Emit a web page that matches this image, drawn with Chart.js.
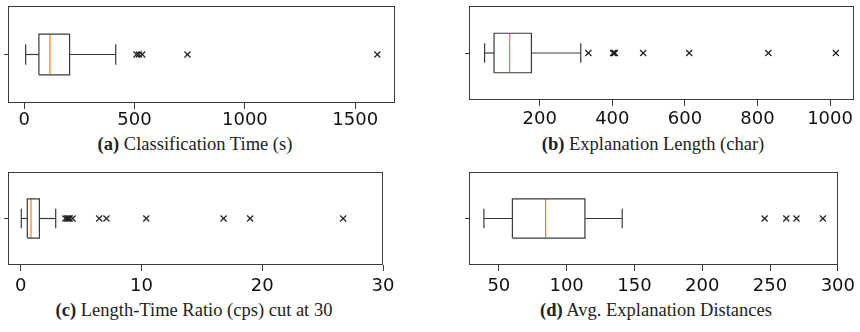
<!DOCTYPE html>
<html>
<head>
<meta charset="utf-8">
<script src="https://cdn.jsdelivr.net/npm/chart.js@4"></script>
<style>
  html, body { margin: 0; padding: 0; background: #fff; }
  body { width: 860px; height: 332px; position: relative; overflow: hidden; }
  canvas { position: absolute; }
  .cap { position: absolute; font-family: "Liberation Serif", "Times New Roman", serif; font-size: 18.5px; color: #222; white-space: nowrap; transform: translate(-50%, -50%); }
  .cap b { font-weight: bold; }
</style>
</head>
<body>
<canvas id="ca" width="430" height="132" style="left:0;top:0"></canvas>
<canvas id="cb" width="430" height="132" style="left:430px;top:0"></canvas>
<canvas id="cc" width="430" height="132" style="left:0;top:166px"></canvas>
<canvas id="cd" width="430" height="132" style="left:430px;top:166px"></canvas>
<div class="cap" style="left:195px;top:144px"><b>(a)</b> Classification Time (s)</div>
<div class="cap" style="left:653px;top:144px"><b>(b)</b> Explanation Length (char)</div>
<div class="cap" style="left:194px;top:310px"><b>(c)</b> Length-Time Ratio (cps) cut at 30</div>
<div class="cap" style="left:656px;top:310px"><b>(d)</b> Avg. Explanation Distances</div>
<script>
// ---- data: [whisker low, Q1, median, Q3, whisker high] ----
const statsA = [7, 67, 117, 206, 415];
const outliersA = [509, 520, 535, 740, 1600];
const ticksA = [0, 500, 1000, 1500];
const rangeA = [-73, 1680];

const statsB = [48, 74, 117, 177, 313];
const outliersB = [334, 402, 405, 407, 485, 612, 830, 1016];
const ticksB = [200, 400, 600, 800, 1000];
const rangeB = [5, 1066];

const statsC = [0.05, 0.55, 0.85, 1.55, 2.9];
const outliersC = [3.7, 3.85, 3.95, 4.05, 4.3, 6.5, 7.1, 10.4, 16.8, 19.0, 26.7];
const ticksC = [0, 10, 20, 30];
const rangeC = [-1.05, 30];

const statsD = [39, 60, 84.5, 113.5, 141];
const outliersD = [246, 262, 269.5, 289];
const ticksD = [50, 100, 150, 200, 250, 300];
const rangeD = [28, 300];

const LINE = '#3a3a3a';
const MED = '#ff7f0e';
const HALF = 0.21;   // half box height (y units)
const CAP = 0.105;   // half cap length

const framePlugin = {
  id: 'frame',
  afterDatasetsDraw(chart) {
    const a = chart.chartArea, ctx = chart.ctx;
    ctx.save();
    ctx.strokeStyle = LINE;
    ctx.lineWidth = 1;
    ctx.strokeRect(Math.round(a.left) + 0.5, Math.round(a.top) + 0.5,
                   Math.round(a.right - a.left) - 1, Math.round(a.bottom - a.top) - 1);
    ctx.restore();
  }
};

function seg(points, color) {
  return { type: 'scatter', data: points, showLine: true, borderColor: color,
           borderWidth: 1.2, pointRadius: 0, pointHoverRadius: 0, fill: false, tension: 0 };
}

function makeBox(id, stats, outliers, tickVals, range, layout) {
  const [lo, q1, med, q3, hi] = stats;
  const datasets = [
    seg([{x: q1, y: 1 - HALF}, {x: q3, y: 1 - HALF}, {x: q3, y: 1 + HALF}, {x: q1, y: 1 + HALF}, {x: q1, y: 1 - HALF}], LINE),
    seg([{x: lo, y: 1}, {x: q1, y: 1}], LINE),
    seg([{x: q3, y: 1}, {x: hi, y: 1}], LINE),
    seg([{x: lo, y: 1 - CAP}, {x: lo, y: 1 + CAP}], LINE),
    seg([{x: hi, y: 1 - CAP}, {x: hi, y: 1 + CAP}], LINE),
    seg([{x: med, y: 1 - HALF}, {x: med, y: 1 + HALF}], MED),
    { type: 'scatter', data: outliers.map(v => ({x: v, y: 1})), pointStyle: 'crossRot',
      pointRadius: 4.3, borderColor: '#222', borderWidth: 1.2, backgroundColor: '#222', showLine: false }
  ];
  new Chart(document.getElementById(id), {
    type: 'scatter',
    data: { datasets },
    options: {
      responsive: false, animation: false, devicePixelRatio: 1,
      layout: { padding: { left: 0, top: layout.top, right: layout.right, bottom: 0 } },
      plugins: { legend: { display: false }, tooltip: { enabled: false } },
      scales: {
        x: {
          type: 'linear', min: range[0], max: range[1],
          afterBuildTicks: s => { s.ticks = tickVals.map(v => ({ value: v })); },
          afterFit: s => { s.height = layout.xh; },
          grid: { display: true, drawOnChartArea: false, drawTicks: true, tickLength: 6, color: LINE, lineWidth: 1 },
          border: { display: false },
          ticks: { color: '#111', padding: layout.pad, maxRotation: 0, autoSkip: false,
                   callback: v => String(v),
                   font: { family: 'DejaVu Sans', size: 18 } }
        },
        y: {
          type: 'linear', min: 0.5, max: 1.5,
          afterBuildTicks: s => { s.ticks = [{ value: 1 }]; },
          afterFit: s => { s.width = layout.yw; },
          grid: { display: true, drawOnChartArea: false, drawTicks: true, tickLength: 4, color: LINE, lineWidth: 1 },
          border: { display: false },
          ticks: { display: false }
        }
      }
    },
    plugins: [framePlugin]
  });
}

makeBox('ca', statsA, outliersA, ticksA, rangeA, { top: 6, right: 35, yw: 8, xh: 29, pad: 1 });
makeBox('cb', statsB, outliersB, ticksB, rangeB, { top: 6, right: 6, yw: 39, xh: 32, pad: 3 });
makeBox('cc', statsC, outliersC, ticksC, rangeC, { top: 6, right: 47, yw: 8, xh: 33, pad: 5 });
makeBox('cd', statsD, outliersD, ticksD, rangeD, { top: 6, right: 21, yw: 39, xh: 33, pad: 5 });
</script>
</body>
</html>
